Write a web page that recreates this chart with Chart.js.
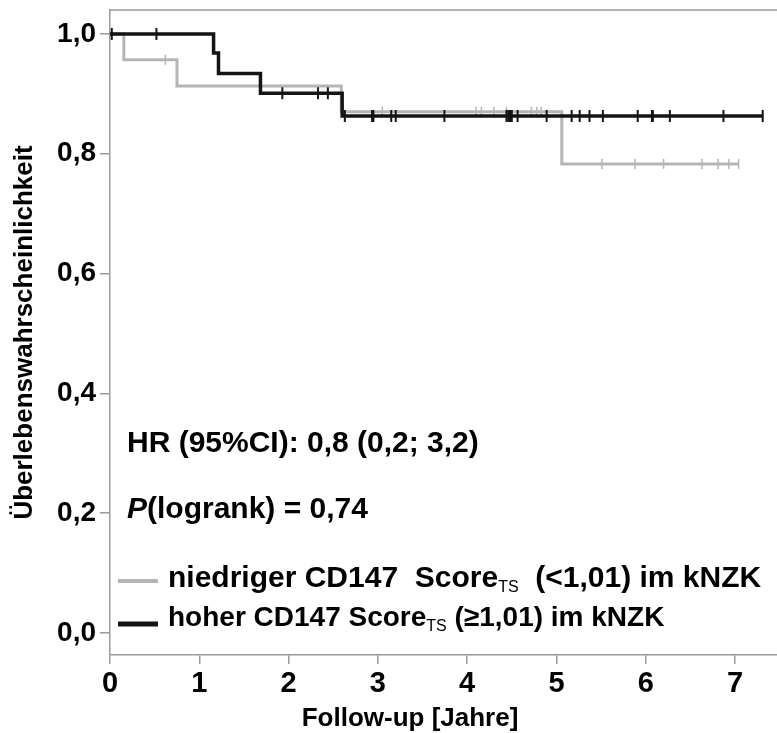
<!DOCTYPE html>
<html>
<head>
<meta charset="utf-8">
<script src="https://cdn.jsdelivr.net/npm/chart.js@4.4.1/dist/chart.umd.min.js"></script>
<style>
  html, body { margin: 0; padding: 0; background: #fff; }
  #km { display: block; }
</style>
</head>
<body>
<canvas id="km" width="777" height="733"></canvas>
<script>
// Kaplan-Meier steps
const lowTimes = [0, 0.155, 0.75, 2.59, 5.06, 7.04];
const lowSurv = [1, 0.957, 0.913, 0.870, 0.783, 0.783];
const lowCensor = [0.62, 3.05, 4.10, 4.16, 4.30, 4.44, 4.72, 4.78, 4.83, 5.51, 5.88, 6.20, 6.63, 6.81, 6.93, 7.04];

const highTimes = [0, 1.16, 1.215, 1.685, 2.6, 7.31];
const highSurv = [1, 0.968, 0.934, 0.901, 0.863, 0.863];
const highCensor = [0.02, 0.52, 1.93, 2.33, 2.44, 2.63, 2.935, 2.95, 3.15, 3.20, 3.745, 4.44, 4.46, 4.48, 4.50, 4.565,
    4.89, 5.17, 5.26, 5.37, 5.52, 5.91, 6.07, 6.08, 6.27, 6.87, 7.31];

const xTicks = [0, 1, 2, 3, 4, 5, 6, 7];
const yTicks = [0, 0.2, 0.4, 0.6, 0.8, 1.0];

const GRAY = '#b5b5b5';
const BLACK = '#141414';
const AXIS = '#9a9a9a';
const FONT = '"Liberation Sans", Arial, sans-serif';

function survAt(times, surv, t) {
    let s = surv[0];
    for (let i = 0; i < times.length; i++) {
        if (times[i] <= t) s = surv[i];
    }
    return s;
}

function toPoints(times, surv) {
    return times.map((t, i) => ({x: t, y: surv[i]}));
}

function censorPoints(censor, times, surv) {
    return censor.map(t => ({x: t, y: survAt(times, surv, t)}));
}

const textPlugin = {
    id: 'kmText',
    afterDraw(chart) {
        const ctx = chart.ctx;
        const area = chart.chartArea;
        ctx.save();

        // top frame line
        ctx.strokeStyle = AXIS;
        ctx.lineWidth = 1.5;
        ctx.beginPath();
        ctx.moveTo(area.left, area.top);
        ctx.lineTo(area.right, area.top);
        ctx.stroke();

        ctx.fillStyle = '#000';
        ctx.textBaseline = 'alphabetic';
        ctx.textAlign = 'left';

        ctx.font = 'bold 30px ' + FONT;
        ctx.fillText('HR (95%CI): 0,8 (0,2; 3,2)', 127, 452);

        ctx.font = 'italic bold 30px ' + FONT;
        ctx.fillText('P', 127, 518);
        let w = ctx.measureText('P').width;
        ctx.font = 'bold 30px ' + FONT;
        ctx.fillText('(logrank) = 0,74', 127 + w, 518);

        // legend
        ctx.lineCap = 'butt';
        ctx.strokeStyle = GRAY;
        ctx.lineWidth = 4;
        ctx.beginPath();
        ctx.moveTo(118, 581);
        ctx.lineTo(158, 581);
        ctx.stroke();
        ctx.strokeStyle = BLACK;
        ctx.lineWidth = 5;
        ctx.beginPath();
        ctx.moveTo(118, 624);
        ctx.lineTo(158, 624);
        ctx.stroke();

        drawLegendLine(ctx, 168, 587, 30, 'niedriger CD147  Score', '  (<1,01) im kNZK');
        drawLegendLine(ctx, 168, 626, 28, 'hoher CD147 Score', ' (\u22651,01) im kNZK');

        // x axis title
        ctx.font = 'bold 26px ' + FONT;
        ctx.textAlign = 'center';
        ctx.fillText('Follow-up [Jahre]', 410, 726);

        ctx.restore();
    }
};

function drawLegendLine(ctx, x, y, size, before, after) {
    ctx.font = 'bold ' + size + 'px ' + FONT;
    ctx.fillText(before, x, y);
    x += ctx.measureText(before).width;
    ctx.font = '16px ' + FONT;
    ctx.fillText('TS', x, y + 5);
    x += ctx.measureText('TS').width;
    ctx.font = 'bold ' + size + 'px ' + FONT;
    ctx.fillText(after, x, y);
}

const config = {
    type: 'scatter',
    data: {
        datasets: [
            {
                label: 'hoher CD147 Score',
                data: toPoints(highTimes, highSurv),
                showLine: true,
                stepped: true,
                borderColor: BLACK,
                borderWidth: 3.5,
                pointRadius: 0,
                order: 1
            },
            {
                label: 'hoher zensiert',
                data: censorPoints(highCensor, highTimes, highSurv),
                showLine: false,
                pointStyle: 'line',
                rotation: 90,
                pointRadius: 6,
                borderColor: BLACK,
                borderWidth: 2,
                order: 0
            },
            {
                label: 'niedriger CD147 Score',
                data: toPoints(lowTimes, lowSurv),
                showLine: true,
                stepped: true,
                borderColor: GRAY,
                borderWidth: 3,
                pointRadius: 0,
                order: 3
            },
            {
                label: 'niedriger zensiert',
                data: censorPoints(lowCensor, lowTimes, lowSurv),
                showLine: false,
                pointStyle: 'line',
                rotation: 90,
                pointRadius: 5,
                borderColor: GRAY,
                borderWidth: 1.5,
                order: 2
            }
        ]
    },
    options: {
        responsive: false,
        animation: false,
        layout: {autoPadding: false, padding: {top: 10, right: 0, left: 0, bottom: 0}},
        plugins: {
            legend: {display: false},
            tooltip: {enabled: false}
        },
        scales: {
            x: {
                type: 'linear',
                min: 0,
                max: 7.47,
                afterBuildTicks: s => { s.ticks = xTicks.map(v => ({value: v})); },
                afterFit: s => { s.height = 78; s.paddingLeft = 0; s.paddingRight = 0; },
                grid: {drawOnChartArea: false, drawTicks: true, tickLength: 9, color: AXIS, lineWidth: 1.5},
                border: {color: AXIS, width: 1.5},
                ticks: {
                    color: '#000',
                    padding: 3,
                    maxRotation: 0,
                    font: {family: FONT, size: 29, weight: 'bold'},
                    callback: v => String(v)
                }
            },
            y: {
                type: 'linear',
                min: -0.037,
                max: 1.04,
                afterBuildTicks: s => { s.ticks = yTicks.map(v => ({value: v})); },
                afterFit: s => { s.width = 110; s.paddingTop = 0; s.paddingBottom = 0; },
                grid: {drawOnChartArea: false, drawTicks: true, tickLength: 10, color: AXIS, lineWidth: 1.5},
                border: {color: AXIS, width: 1.5},
                ticks: {
                    color: '#000',
                    padding: 4,
                    font: {family: FONT, size: 28, weight: 'bold'},
                    callback: v => v.toFixed(1).replace('.', ',')
                },
                title: {
                    display: true,
                    text: '\u00dcberlebenswahrscheinlichkeit',
                    color: '#000',
                    padding: {top: 9, bottom: 0},
                    font: {family: FONT, size: 26, weight: 'bold'}
                }
            }
        }
    },
    plugins: [textPlugin]
};

new Chart(document.getElementById('km'), config);
</script>
</body>
</html>
